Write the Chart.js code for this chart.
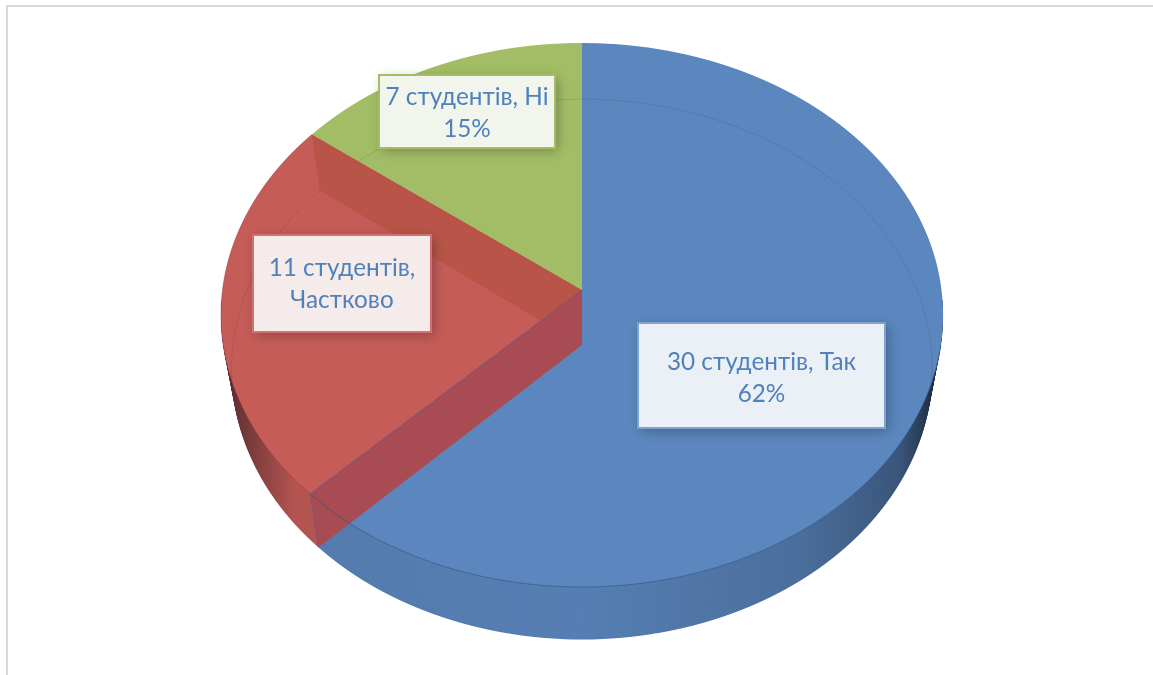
<!DOCTYPE html>
<html>
<head>
<meta charset="utf-8">
<title>Студенти</title>
<script src="https://cdn.jsdelivr.net/npm/chart.js@4"></script>
<style>
  html, body { margin: 0; background: #fff; overflow: hidden; }
  #frame { position: absolute; left: 6px; top: 5px; right: 0; bottom: 0; border-top: 2px solid #d9d9d9; border-left: 2px solid #d9d9d9; }
  canvas { position: absolute; left: 0; top: 0; }
</style>
</head>
<body>
<div id="frame"></div>
<canvas id="chart1" width="1153" height="675"></canvas>
<script>
// Дані
const categories = ['Так', 'Частково', 'Ні'];
const students = [30, 11, 7];
const percents = ['62%', '', '15%'];
const sliceColors = ['#5b87be', '#c55c58', '#a3bd66'];

// Площини 3D: верх і дно кругової діаграми (перспектива)
const topPlane = { cx: 582, cy: 290, R: 359.5, A: 269.7, k: 0.0919 };
const floorPlane = { cx: 582, cy: 345, R: 349, A: 268, k: 0.09 };

function mixPlane(t) {
  const p = {};
  for (const key in topPlane) p[key] = floorPlane[key] * t + topPlane[key] * (1 - t);
  return p;
}

function project(p, u, v) {
  const w = 1 - p.k * v;
  return { x: p.cx + p.R * u / w, y: p.cy + p.A * v / w };
}

// Малює сектори Chart.js рядок за рядком, щоб вийшла перспектива
function drawPlane(ctx, p, arcs, minRow) {
  const { x: ax, y: ay, outerRadius: r } = arcs[0];
  const first = Math.max(minRow, Math.floor(p.cy - p.A / (1 + p.k)));
  const last = Math.ceil(p.cy + p.A / (1 - p.k));
  for (let row = first; row <= last; row++) {
    const d0 = row - p.cy, d1 = row + 1 - p.cy;
    const v0 = d0 / (p.A + p.k * d0), v1 = d1 / (p.A + p.k * d1);
    const sx = p.R / (r * (1 - p.k * (v0 + v1) / 2));
    const sy = 1 / ((v1 - v0) * r);
    ctx.save();
    ctx.beginPath();
    ctx.rect(0, row, ctx.canvas.width, 1);
    ctx.clip();
    ctx.setTransform(sx, 0, 0, sy, p.cx - ax * sx, row - (ay + v0 * r) * sy);
    arcs.forEach(a => a.draw(ctx));
    ctx.restore();
  }
}

function radialWall(ctx, angle, color) {
  const u = Math.cos(angle), v = Math.sin(angle);
  const pts = [project(topPlane, 0, 0), project(floorPlane, 0, 0), project(floorPlane, u, v), project(topPlane, u, v)];
  ctx.beginPath();
  pts.forEach((q, i) => i ? ctx.lineTo(q.x, q.y) : ctx.moveTo(q.x, q.y));
  ctx.closePath();
  ctx.fillStyle = color;
  ctx.fill();
}

function strokeArc(ctx, p, from, to, color, width) {
  ctx.beginPath();
  for (let i = 0; i <= 240; i++) {
    const a = from + (to - from) * i / 240;
    const q = project(p, Math.cos(a), Math.sin(a));
    i ? ctx.lineTo(q.x, q.y) : ctx.moveTo(q.x, q.y);
  }
  ctx.strokeStyle = color;
  ctx.lineWidth = width;
  ctx.stroke();
}

const pie3d = {
  id: 'pie3d',
  beforeDatasetsDraw(chart) {
    const ctx = chart.ctx;
    const arcs = chart.getDatasetMeta(0).data;

    // бічна стінка
    const side = document.createElement('canvas');
    side.width = chart.width;
    side.height = chart.height;
    const sideCtx = side.getContext('2d');
    for (let i = 27; i >= 0; i--) drawPlane(sideCtx, mixPlane(i / 27), arcs, 300);
    const shade = sideCtx.createLinearGradient(222, 0, 943, 0);
    shade.addColorStop(0, 'rgba(30,20,25,0.7)');
    shade.addColorStop(0.03, 'rgba(30,20,25,0.5)');
    shade.addColorStop(0.1, 'rgba(30,20,25,0.1)');
    shade.addColorStop(0.5, 'rgba(20,25,40,0.08)');
    shade.addColorStop(0.8, 'rgba(20,25,40,0.22)');
    shade.addColorStop(0.94, 'rgba(20,25,40,0.45)');
    shade.addColorStop(1, 'rgba(15,20,30,0.88)');
    sideCtx.globalCompositeOperation = 'source-atop';
    sideCtx.fillStyle = shade;
    sideCtx.fillRect(0, 0, side.width, side.height);
    ctx.drawImage(side, 0, 0);

    // верх
    drawPlane(ctx, topPlane, arcs, 0);

    const blue = arcs[0], red = arcs[1];
    // лінія дна, що просвічує
    strokeArc(ctx, floorPlane, Math.PI * 0.94, Math.PI * 2.08, 'rgba(40,50,60,0.14)', 1);
    // внутрішні стінки
    radialWall(ctx, red.endAngle, '#b85548');
    radialWall(ctx, red.startAngle, '#a84b52');
    // контур передньої частини
    strokeArc(ctx, topPlane, 0.2, blue.endAngle, 'rgba(45,85,135,0.6)', 1);
    strokeArc(ctx, topPlane, blue.endAngle, red.endAngle, 'rgba(120,50,60,0.35)', 1);
    const a = blue.endAngle;
    const c1 = project(topPlane, Math.cos(a), Math.sin(a));
    const c2 = project(floorPlane, Math.cos(a), Math.sin(a));
    const c0 = project(topPlane, 0, 0);
    ctx.strokeStyle = 'rgba(80,90,150,0.55)';
    ctx.lineWidth = 1;
    ctx.beginPath();
    ctx.moveTo(c0.x, c0.y);
    ctx.lineTo(c1.x, c1.y);
    ctx.lineTo(c2.x, c2.y);
    ctx.stroke();
    return false;
  },
  afterDraw(chart, args, opts) {
    const ctx = chart.ctx;
    opts.boxes.forEach((b, i) => {
      const first = students[i] + ' студентів,';
      const lines = percents[i] ? [first + ' ' + categories[i], percents[i]] : [first, categories[i]];
      ctx.save();
      ctx.shadowColor = 'rgba(0,0,0,0.28)';
      ctx.shadowBlur = 11;
      ctx.shadowOffsetX = 3;
      ctx.shadowOffsetY = 3;
      ctx.fillStyle = b.fill;
      ctx.fillRect(b.x, b.y, b.w, b.h);
      ctx.shadowColor = 'transparent';
      ctx.strokeStyle = b.line;
      ctx.lineWidth = 2;
      ctx.strokeRect(b.x, b.y, b.w, b.h);
      ctx.fillStyle = '#4f81bd';
      ctx.font = opts.font;
      ctx.textAlign = 'center';
      ctx.textBaseline = 'middle';
      ctx.fillText(lines[0], b.x + b.w / 2, b.line1);
      ctx.fillText(lines[1], b.x + b.w / 2, b.line1 + 32);
      ctx.restore();
    });
  }
};

new Chart(document.getElementById('chart1').getContext('2d'), {
  type: 'pie',
  data: {
    labels: categories,
    datasets: [{ data: students, backgroundColor: sliceColors, borderWidth: 0 }]
  },
  options: {
    responsive: false,
    animation: false,
    layout: { padding: 0 },
    plugins: {
      legend: { display: false },
      tooltip: { enabled: false },
      pie3d: {
        font: '24.3px Lato, "Open Sans", sans-serif',
        boxes: [
          { x: 638, y: 323, w: 247, h: 105, fill: '#ebf0f6', line: '#7ea3d0', line1: 362 },
          { x: 253, y: 235, w: 178, h: 97, fill: '#f6ebeb', line: '#d2716d', line1: 268 },
          { x: 379, y: 75, w: 176, h: 73, fill: '#f2f5ec', line: '#a3bd66', line1: 97 }
        ]
      }
    }
  },
  plugins: [pie3d]
});
</script>
</body>
</html>
